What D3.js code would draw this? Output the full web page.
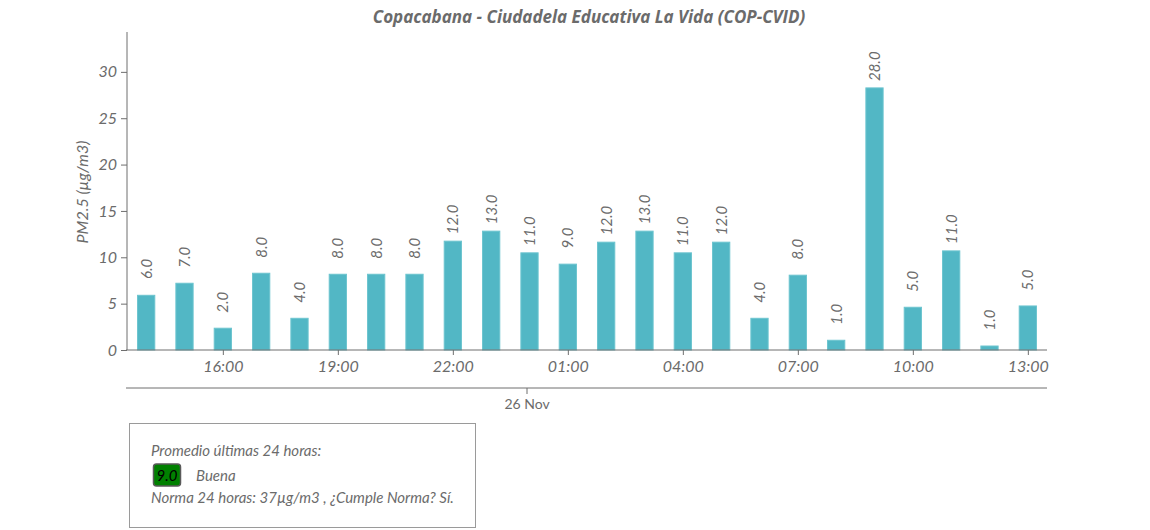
<!DOCTYPE html>
<html>
<head>
<meta charset="utf-8">
<script src="https://cdn.jsdelivr.net/npm/d3@7"></script>
<style>
  html, body { margin: 0; padding: 0; background: #fff; }
  svg { display: block; font-family: Lato, "Open Sans", sans-serif; }
</style>
</head>
<body>
<svg id="chart" width="1150" height="530"></svg>
<script>
const chartTitle = "Copacabana - Ciudadela Educativa La Vida (COP-CVID)";
const yLabel = "PM2.5 (µg/m3)";

const times = [
  "2023-11-25T14:00", "2023-11-25T15:00", "2023-11-25T16:00", "2023-11-25T17:00",
  "2023-11-25T18:00", "2023-11-25T19:00", "2023-11-25T20:00", "2023-11-25T21:00",
  "2023-11-25T22:00", "2023-11-25T23:00", "2023-11-26T00:00", "2023-11-26T01:00",
  "2023-11-26T02:00", "2023-11-26T03:00", "2023-11-26T04:00", "2023-11-26T05:00",
  "2023-11-26T06:00", "2023-11-26T07:00", "2023-11-26T08:00", "2023-11-26T09:00",
  "2023-11-26T10:00", "2023-11-26T11:00", "2023-11-26T12:00", "2023-11-26T13:00"
];
const values = [5.9, 7.2, 2.35, 8.28, 3.42, 8.17, 8.17, 8.17, 11.74, 12.82, 10.48, 9.26,
                11.63, 12.82, 10.48, 11.63, 3.42, 8.07, 1.05, 28.27, 4.61, 10.69, 0.43, 4.75];
const valueLabels = ["6.0", "7.0", "2.0", "8.0", "4.0", "8.0", "8.0", "8.0", "12.0", "13.0", "11.0", "9.0",
                     "12.0", "13.0", "11.0", "12.0", "4.0", "8.0", "1.0", "28.0", "5.0", "11.0", "1.0", "5.0"];
const xTickTimes = ["2023-11-25T16:00", "2023-11-25T19:00", "2023-11-25T22:00", "2023-11-26T01:00",
                    "2023-11-26T04:00", "2023-11-26T07:00", "2023-11-26T10:00", "2023-11-26T13:00"];
const yTicks = [0, 5, 10, 15, 20, 25, 30];
const dayTicks = ["2023-11-26T00:00"];
const domainStart = "2023-11-25T13:30";
const domainEnd = "2023-11-26T13:30";

const legendTitle = "Promedio últimas 24 horas:";
const avgValue = "9.0";
const avgCategory = "Buena";
const normText = "Norma 24 horas: 37µg/m3 , ¿Cumple Norma? Sí.";

const parse = d3.timeParse("%Y-%m-%dT%H:%M");
const data = times.map((t, i) => ({ t: parse(t), v: values[i], label: valueLabels[i] }));

const svg = d3.select("#chart");
const pLeft = 127, pRight = 1047, pTop = 32, pBottom = 350;
const axisColor = "#6e6e6e";
const textColor = "#6b6b6b";
const barColor = "#52b7c5";

const x = d3.scaleTime().domain([parse(domainStart), parse(domainEnd)]).range([pLeft, pRight]);
const y = d3.scaleLinear().domain([0, 34.3]).range([pBottom, pTop]);
const hourW = x(parse(times[1])) - x(parse(times[0]));
const barW = hourW * 0.45;

// Title
svg.append("text")
  .attr("x", (pLeft + pRight) / 2 + 2).attr("y", 23)
  .attr("text-anchor", "middle")
  .style("font-family", "'Open Sans', Lato, sans-serif")
  .style("font-size", "17px").style("font-weight", "bold").style("font-style", "italic")
  .attr("fill", "#6b6b6b")
  .text(chartTitle);

// Bars
svg.append("g").selectAll("rect").data(data).join("rect")
  .attr("x", d => x(d.t) - barW / 2)
  .attr("y", d => y(d.v))
  .attr("width", barW)
  .attr("height", d => y(0) - y(d.v))
  .attr("fill", barColor)
  .attr("stroke", "#6cc4cf")
  .attr("stroke-width", 1);

// Bar labels
svg.append("g").selectAll("text").data(data).join("text")
  .attr("transform", d => `translate(${x(d.t) + 5.5},${y(d.v) - 36.5}) rotate(-90)`)
  .attr("text-anchor", "end")
  .style("font-size", "15px").style("font-style", "italic")
  .attr("fill", textColor)
  .text(d => d.label);

// Y axis
const yAxis = svg.append("g").attr("transform", `translate(${pLeft},0)`)
  .call(d3.axisLeft(y).tickValues(yTicks).tickSize(6).tickPadding(4).tickFormat(d3.format("d")));
yAxis.select(".domain").attr("stroke", axisColor).attr("d", `M0,${pTop}V${pBottom}`);
yAxis.selectAll(".tick line").attr("stroke", axisColor);
yAxis.selectAll(".tick text").attr("fill", textColor)
  .style("font-size", "16px").style("font-style", "italic").style("font-family", "Lato, sans-serif");

// Y label
svg.append("text")
  .attr("transform", `translate(88,${(pTop + pBottom) / 2 + 1}) rotate(-90)`)
  .attr("text-anchor", "middle")
  .style("font-size", "16px").style("font-style", "italic")
  .attr("fill", textColor)
  .text(yLabel);

// X axis (hours)
const xAxis = svg.append("g").attr("transform", `translate(0,${pBottom})`)
  .call(d3.axisBottom(x).tickValues(xTickTimes.map(parse)).tickSize(5).tickPadding(6)
    .tickFormat(d3.timeFormat("%H:%M")));
xAxis.select(".domain").attr("stroke", axisColor).attr("d", `M${pLeft - 1},0H${pRight}`);
xAxis.selectAll(".tick line").attr("stroke", axisColor);
xAxis.selectAll(".tick text").attr("fill", textColor)
  .style("font-size", "16px").style("font-style", "italic").style("font-family", "Lato, sans-serif");

// X axis (day)
const dayAxis = svg.append("g").attr("transform", "translate(-3,388)")
  .call(d3.axisBottom(x).tickValues(dayTicks.map(parse)).tickSize(6).tickPadding(5)
    .tickFormat(d3.timeFormat("%d %b")));
dayAxis.select(".domain").attr("stroke", axisColor).attr("d", `M${pLeft + 2},0H${pRight + 3}`);
dayAxis.selectAll(".tick line").attr("stroke", axisColor);
dayAxis.selectAll(".tick text").attr("fill", textColor)
  .style("font-size", "14px").style("font-family", "Lato, sans-serif");

// Legend box
const lg = svg.append("g");
lg.append("rect").attr("x", 129.5).attr("y", 423.5).attr("width", 346).attr("height", 104)
  .attr("fill", "#fff").attr("stroke", "#9a9a9a").attr("stroke-width", 1);
lg.append("text").attr("x", 151).attr("y", 456)
  .style("font-size", "15px").style("font-style", "italic").attr("fill", textColor)
  .text(legendTitle);
lg.append("rect").attr("x", 153.5).attr("y", 464).attr("width", 27).attr("height", 22).attr("rx", 3)
  .attr("fill", "#008000").attr("stroke", "#5a5a5a").attr("stroke-width", 1.5);
lg.append("text").attr("x", 167).attr("y", 480.5).attr("text-anchor", "middle")
  .style("font-size", "15px").style("font-style", "italic").attr("fill", "#000")
  .text(avgValue);
lg.append("text").attr("x", 196).attr("y", 480.5)
  .style("font-size", "15px").style("font-style", "italic").attr("fill", textColor)
  .text(avgCategory);
lg.append("text").attr("x", 151).attr("y", 503)
  .style("font-size", "15px").style("font-style", "italic").attr("fill", textColor)
  .text(normText);
</script>
</body>
</html>
